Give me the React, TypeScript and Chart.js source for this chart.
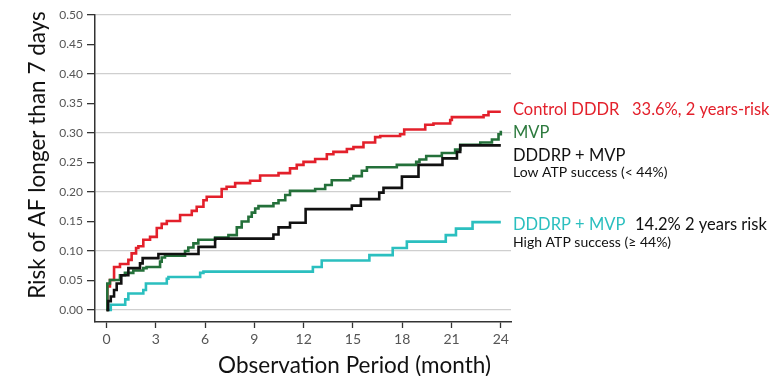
import React, { useEffect, useRef } from "react";
import { Chart, registerables } from "chart.js";

Chart.register(...registerables);

// ---- Data ----
const xTickValues = [0, 3, 6, 9, 12, 15, 18, 21, 24];
const yTickValues = [0, 0.05, 0.1, 0.15, 0.2, 0.25, 0.3, 0.35, 0.4, 0.45, 0.5];

const controlMonths = [0, 0.05, 0.21, 0.46, 0.82, 1.33, 1.53, 1.8, 1.94, 2.24, 2.65, 3.06, 3.36, 3.67, 4.48, 5.19, 5.49, 5.9, 6.1, 7.01, 7.31, 7.83, 8.74, 9.35, 10.47, 11.17, 11.58, 11.99, 12.7, 13.41, 13.81, 14.63, 15.03, 15.64, 16.35, 16.66, 17.87, 18.12, 19.4, 19.9, 20.92, 21.02, 22.95, 23.25, 24];
const controlRisk = [0, 0.04, 0.051, 0.073, 0.078, 0.085, 0.096, 0.105, 0.108, 0.119, 0.124, 0.139, 0.146, 0.151, 0.161, 0.168, 0.175, 0.186, 0.192, 0.205, 0.209, 0.215, 0.219, 0.228, 0.232, 0.24, 0.246, 0.251, 0.256, 0.264, 0.268, 0.273, 0.276, 0.284, 0.293, 0.295, 0.298, 0.306, 0.314, 0.316, 0.322, 0.327, 0.33, 0.336, 0.336];

const mvpMonths = [0, 0.05, 0.21, 0.82, 1.12, 1.63, 2.24, 2.44, 3.26, 3.36, 3.56, 4.78, 4.98, 5.29, 5.59, 6.61, 7.42, 7.93, 8.23, 8.64, 8.84, 9.05, 9.25, 10.16, 10.47, 10.88, 11.17, 12.7, 13.31, 13.71, 14.83, 15.03, 15.54, 15.85, 17.67, 18.85, 19.05, 19.46, 20.41, 21.22, 21.53, 22.75, 23.46, 23.86, 24];
const mvpRisk = [0, 0.045, 0.051, 0.059, 0.063, 0.067, 0.071, 0.073, 0.082, 0.089, 0.092, 0.1, 0.106, 0.113, 0.119, 0.123, 0.127, 0.14, 0.15, 0.158, 0.165, 0.172, 0.176, 0.181, 0.186, 0.195, 0.202, 0.205, 0.212, 0.22, 0.223, 0.227, 0.236, 0.242, 0.246, 0.251, 0.255, 0.261, 0.266, 0.272, 0.28, 0.284, 0.289, 0.298, 0.304];

const lowAtpMonths = [0, 0.1, 0.26, 0.46, 0.62, 0.9, 1.33, 2.04, 2.2, 3.16, 5.6, 6.61, 10.16, 10.47, 11.17, 12.12, 14.93, 15.48, 16.6, 16.86, 17.98, 18.99, 20.45, 21.33, 21.53, 24];
const lowAtpRisk = [0, 0.015, 0.023, 0.034, 0.045, 0.059, 0.071, 0.079, 0.088, 0.095, 0.107, 0.121, 0.128, 0.14, 0.148, 0.171, 0.177, 0.188, 0.199, 0.207, 0.226, 0.246, 0.257, 0.268, 0.279, 0.279];

const highAtpMonths = [0, 0.26, 1.14, 1.33, 2.24, 2.4, 3.67, 3.77, 5.7, 5.9, 12.56, 13.1, 16.0, 17.42, 18.28, 20.65, 21.27, 22.28, 24];
const highAtpRisk = [0, 0.009, 0.018, 0.028, 0.034, 0.045, 0.053, 0.056, 0.063, 0.065, 0.073, 0.084, 0.093, 0.105, 0.116, 0.127, 0.138, 0.149, 0.149];

const FONT = "Lato, 'Open Sans', sans-serif";

function toPoints(xs: number[], ys: number[]) {
  return xs.map((x, i) => ({ x, y: ys[i] }));
}

const sideLabels = {
  id: "sideLabels",
  afterDraw(chart: any) {
    const { ctx } = chart;
    ctx.save();
    ctx.textBaseline = "alphabetic";
    ctx.textAlign = "left";
    const big = `16.5px ${FONT}`;
    const small = `14px ${FONT}`;
    ctx.font = big;
    ctx.fillStyle = "#e3202b";
    ctx.fillText("Control DDDR", 513, 115);
    ctx.fillText("33.6%, 2 years-risk", 632, 115);
    ctx.fillStyle = "#2d7a3e";
    ctx.fillText("MVP", 513, 138);
    ctx.fillStyle = "#111111";
    ctx.fillText("DDDRP + MVP", 513, 161);
    ctx.font = small;
    ctx.fillText("Low ATP success (< 44%)", 513, 177);
    ctx.font = big;
    ctx.fillStyle = "#2bbfbf";
    ctx.fillText("DDDRP + MVP", 513, 230);
    ctx.fillStyle = "#111111";
    ctx.fillText("14.2% 2 years risk", 635, 230);
    ctx.font = small;
    ctx.fillText("High ATP success (\u2265 44%)", 513, 247);

    // axis titles
    ctx.font = `22.5px ${FONT}`;
    ctx.fillStyle = "#111111";
    ctx.textAlign = "center";
    ctx.fillText("Observation Period (month)", 354.5, 372.5);
    ctx.translate(45, 155);
    ctx.rotate(-Math.PI / 2);
    ctx.fillText("Risk of AF longer than 7 days", 0, 0);
    ctx.restore();
  },
};

export default function App() {
  const ref = useRef<HTMLCanvasElement | null>(null);

  useEffect(() => {
    document.body.style.margin = "0";
    const canvas = ref.current;
    if (!canvas) return;
    const line = (data: any, color: string) => ({
      data,
      borderColor: color,
      backgroundColor: color,
      borderWidth: 2.6,
      stepped: "before" as const,
      pointRadius: 0,
      fill: false,
    });
    const chart = new Chart(canvas, {
      type: "line",
      data: {
        datasets: [
          line(toPoints(lowAtpMonths, lowAtpRisk), "#111111"),
          line(toPoints(mvpMonths, mvpRisk), "#24703a"),
          line(toPoints(controlMonths, controlRisk), "#e3202b"),
          line(toPoints(highAtpMonths, highAtpRisk), "#2bbfbf"),
        ],
      },
      options: {
        animation: false,
        responsive: false,
        devicePixelRatio: 1,
        layout: { padding: { left: 0, top: 15, right: 273, bottom: 0 } },
        plugins: { legend: { display: false }, tooltip: { enabled: false } },
        scales: {
          x: {
            type: "linear",
            min: -0.7,
            max: 24.62,
            afterBuildTicks: (scale: any) => {
              scale.ticks = xTickValues.map((v) => ({ value: v }));
            },
            afterFit: (scale: any) => {
              scale.height = 54;
            },
            grid: {
              drawOnChartArea: false,
              drawTicks: true,
              tickLength: 6,
              tickColor: "#333333",
              tickWidth: 1.3,
            },
            border: { display: true, color: "#333333", width: 1.5 },
            ticks: {
              color: "#555555",
              font: { family: FONT, size: 14 },
              padding: 3,
              maxRotation: 0,
              autoSkip: false,
              callback: (v: any) => String(v),
            },
          },
          y: {
            type: "linear",
            min: -0.0203,
            max: 0.5,
            afterBuildTicks: (scale: any) => {
              scale.ticks = yTickValues.map((v) => ({ value: v }));
            },
            afterFit: (scale: any) => {
              scale.width = 95;
            },
            grid: {
              color: (c: any) =>
                c.tick && Math.round(c.tick.value * 100) % 10 === 0 ? "#cfcfcf" : "rgba(0,0,0,0)",
              lineWidth: 1.3,
              drawTicks: true,
              tickLength: 8,
              tickColor: "#333333",
              tickWidth: 1.3,
            },
            border: { display: true, color: "#333333", width: 1.5 },
            ticks: {
              color: "#555555",
              font: { family: FONT, size: 12 },
              padding: 4,
              autoSkip: false,
              callback: (v: any) => Number(v).toFixed(2),
            },
          },
        },
      },
      plugins: [sideLabels],
    });
    return () => chart.destroy();
  }, []);

  return (
    <div style={{ position: "fixed", left: 0, top: 0, width: 784, height: 376, background: "#fff" }}>
      <canvas ref={ref} width={784} height={376} />
    </div>
  );
}
